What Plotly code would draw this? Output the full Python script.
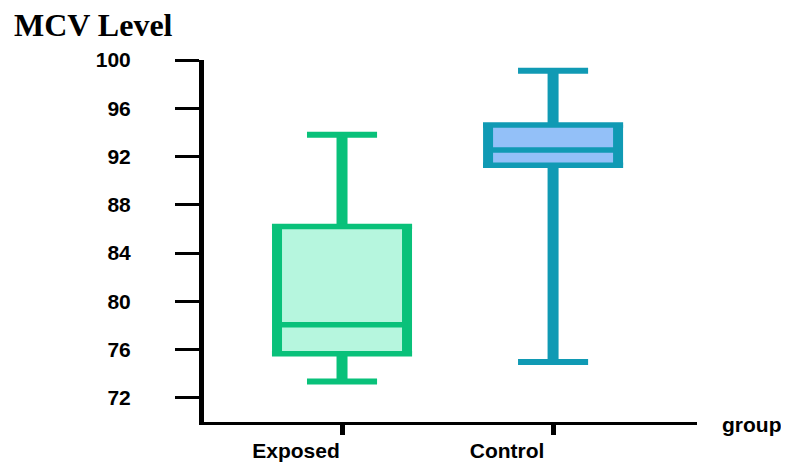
import plotly.graph_objects as go

# ---- data ----
groups = ["Exposed", "Control"]
q_min = [73.35, 74.98]
q1 = [75.65, 91.28]
median = [78.05, 92.55]
q3 = [86.2, 94.62]
q_max = [93.8, 99.1]

stroke_colors = ["#09C17A", "#109AB4"]
fill_colors = ["#B6F6DE", "#93C0F8"]

y_ticks = [72, 76, 80, 84, 88, 92, 96, 100]

# ---- style ----
BOX_HALF = 0.308      # side line centers (x units)
BOX_OUTER = 0.332     # outer edge of box
CAP_HALF = 0.166
SIDE_W = 10
HORIZ_W = 5.5
WHISK_W = 11
CAP_W = 6

fig = go.Figure()

for i, g in enumerate(groups):
    c = stroke_colors[i]
    f = fill_colors[i]
    xc = i
    # fill
    fig.add_trace(go.Scatter(
        x=[xc - BOX_HALF, xc + BOX_HALF, xc + BOX_HALF, xc - BOX_HALF, xc - BOX_HALF],
        y=[q1[i], q1[i], q3[i], q3[i], q1[i]],
        fill="toself", fillcolor=f, mode="lines", line=dict(width=0, color=f),
        hoverinfo="skip", showlegend=False))
    # whiskers
    fig.add_trace(go.Scatter(x=[xc, xc], y=[q3[i], q_max[i]], mode="lines",
                             line=dict(color=c, width=WHISK_W), showlegend=False, hoverinfo="skip"))
    fig.add_trace(go.Scatter(x=[xc, xc], y=[q_min[i], q1[i]], mode="lines",
                             line=dict(color=c, width=WHISK_W), showlegend=False, hoverinfo="skip"))
    # caps
    for v in (q_min[i], q_max[i]):
        fig.add_trace(go.Scatter(x=[xc - CAP_HALF, xc + CAP_HALF], y=[v, v], mode="lines",
                                 line=dict(color=c, width=CAP_W), showlegend=False, hoverinfo="skip"))
    # sides
    for sx in (xc - BOX_HALF, xc + BOX_HALF):
        fig.add_trace(go.Scatter(x=[sx, sx], y=[q1[i], q3[i]], mode="lines",
                                 line=dict(color=c, width=SIDE_W), showlegend=False, hoverinfo="skip"))
    # top / bottom
    for v in (q1[i], q3[i]):
        fig.add_trace(go.Scatter(x=[xc - BOX_OUTER, xc + BOX_OUTER], y=[v, v], mode="lines",
                                 line=dict(color=c, width=HORIZ_W), showlegend=False, hoverinfo="skip"))
    # median
    fig.add_trace(go.Scatter(x=[xc - BOX_HALF, xc + BOX_HALF], y=[median[i], median[i]], mode="lines",
                             line=dict(color=c, width=HORIZ_W), showlegend=False, hoverinfo="skip"))

tick_font = dict(family="Liberation Sans, Arial, sans-serif", size=21, color="black", weight="bold")

# page body has an 8px margin, so the figure is sized 8px smaller and offset accordingly
L, T, R, B = 196, 52, 92, 41

fig.update_layout(
    width=781, height=455,
    margin=dict(l=L, r=R, t=T, b=B, autoexpand=False),
    paper_bgcolor="white", plot_bgcolor="white",
    showlegend=False,
    xaxis=dict(
        range=[-0.654, 1.682], automargin=False,
        tickmode="array", tickvals=list(range(len(groups))), ticktext=groups,
        showgrid=False, zeroline=False,
        showline=True, linecolor="black", linewidth=3,
        ticks="outside", ticklen=10, tickwidth=5, tickcolor="black",
        tickfont=tick_font, ticklabelshift=-46, ticklabelstandoff=-2,
    ),
    yaxis=dict(
        range=[70, 100], automargin=False,
        tickmode="array", tickvals=y_ticks,
        showgrid=False, zeroline=False,
        showline=True, linecolor="black", linewidth=5,
        ticks="outside", ticklen=24, tickwidth=3, tickcolor="black",
        tickfont=tick_font, ticklabelstandoff=40,
    ),
    annotations=[
        dict(text="MCV Level", xref="paper", yref="paper", x=-L/493, y=1 + T/362,
             xanchor="left", yanchor="top", xshift=4, yshift=3, showarrow=False,
             font=dict(family="Liberation Serif, Times New Roman, serif", size=32, color="black", weight="bold")),
        dict(text="group", xref="paper", yref="paper", x=1.0527, y=-0.006,
             xanchor="left", yanchor="middle", xshift=-3, showarrow=False,
             font=tick_font),
    ],
)

fig.write_html("out.html")
